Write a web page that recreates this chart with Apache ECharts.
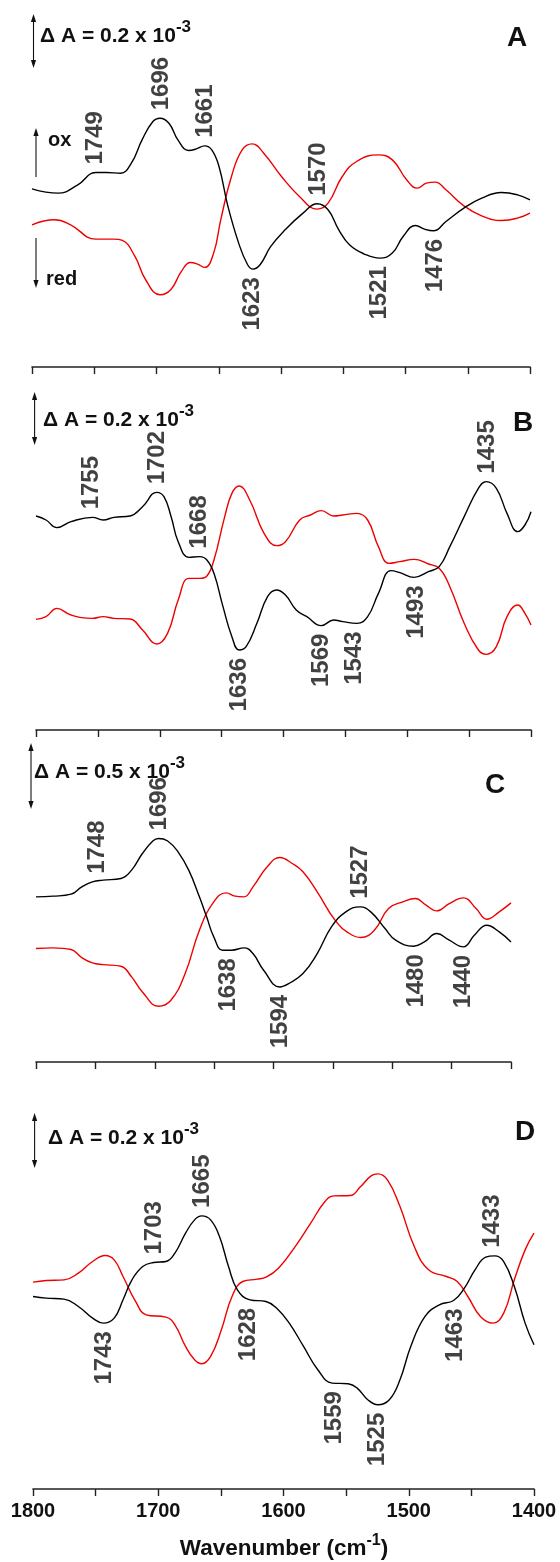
<!DOCTYPE html>
<html><head><meta charset="utf-8">
<script src="https://cdn.jsdelivr.net/npm/echarts@6/dist/echarts.min.js"></script>
<style>html,body{margin:0;padding:0;background:#fff}#c{width:560px;height:1562px}</style>
</head><body><div id="c"></div>
<script>
// ================= DATA =================
const xTickLabels = [1800, 1700, 1600, 1500, 1400];
const xTitle = ['Wavenumber (cm', '-1', ')'];

// Panel A  [wavenumber, relative signal]
const A_ox = [[1800,535],[1779,522],[1763.2,547],[1748.9,584],[1740.3,584],[1728.8,582],[1720.2,612],[1711.6,682],[1702.9,737],[1697.2,747],[1690,732],[1682.8,682],[1674.2,650],[1668.5,654],[1661.3,664],[1655.6,652],[1649.8,602],[1642.6,482],[1634,372],[1626.8,307],[1622.5,294],[1616.8,307],[1608.2,362],[1596.7,412],[1582.3,462],[1570.9,490],[1562.2,472],[1553.6,412],[1545,367],[1533.5,340],[1520.6,327],[1510.6,342],[1501.9,392],[1491.9,425],[1484.7,414],[1477.5,409],[1467.5,437],[1453.1,477],[1438.8,507],[1423,524],[1410,517],[1400,502]];
const A_red = [[1800,427],[1781.9,442],[1769,427],[1748.9,384],[1734.5,384],[1727.4,380],[1717.3,332],[1708.7,262],[1697.2,217],[1688.6,232],[1680,287],[1672.8,314],[1667,309],[1661.3,299],[1654.1,342],[1648.4,442],[1639.8,572],[1631.2,652],[1623.1,670],[1613.9,642],[1599.6,572],[1585.2,512],[1570.9,474],[1562.2,492],[1550.8,572],[1539.3,617],[1522,637],[1510.6,622],[1499.1,562],[1490.5,537],[1483.3,552],[1476.1,555],[1467.5,532],[1453.1,484],[1438.8,454],[1423,440],[1410,447],[1400,462]];
const A_peaksUp = [1749, 1696, 1661, 1570];
const A_peaksDown = [1623, 1521, 1476];
const A_scale = '0.2';

// Panel B
const B_ox = [[1800,642],[1791.9,630],[1783.2,607],[1771.7,625],[1754.4,638],[1745.7,630],[1737,638],[1724,642],[1713.9,670],[1702.4,713],[1696.6,700],[1690.8,640],[1685.1,565],[1676.4,518],[1667.7,520],[1661.9,510],[1656.2,470],[1648.9,370],[1641.7,280],[1635.9,240],[1630.2,250],[1621.5,320],[1612.9,400],[1605.6,420],[1598.4,405],[1589.7,360],[1581.1,340],[1569.5,313],[1559.4,330],[1552.2,325],[1540.6,320],[1532,340],[1523.3,410],[1513.2,478],[1506,472],[1494.4,458],[1482.9,475],[1474.2,490],[1465.6,550],[1454,640],[1442.5,725],[1436.1,745],[1428,725],[1419.4,650],[1410.7,595],[1404.9,615],[1400,655]];
const B_red = [[1800,332],[1791.9,340],[1783.2,365],[1771.7,345],[1754.4,335],[1745.7,340],[1737,335],[1724,333],[1713.9,300],[1702.4,258],[1693.7,290],[1685.1,390],[1676.4,455],[1667.7,455],[1661.9,462],[1656.2,510],[1647.5,640],[1641.7,710],[1635.9,732],[1627.3,690],[1615.7,590],[1605.6,553],[1598.4,565],[1586.9,630],[1578.2,645],[1569.5,658],[1559.4,642],[1552.2,645],[1540.6,650],[1532,630],[1523.3,550],[1514.7,500],[1506,505],[1494.4,512],[1482.9,498],[1474.2,485],[1465.6,430],[1454,320],[1442.5,240],[1436.1,227],[1428,250],[1419.4,340],[1410.7,375],[1404.9,350],[1400,315]];
const B_peaksUp = [1755, 1702, 1668, 1435];
const B_peaksDown = [1636, 1569, 1543, 1493];
const B_scale = '0.2';

// Panel C
const C_ox = [[1800,495],[1785.6,497],[1770.5,503],[1761.5,525],[1752.5,540],[1743.5,545],[1728.5,550],[1719.5,575],[1710.4,625],[1701.4,663],[1696.9,670],[1689.4,663],[1680.4,630],[1671.4,575],[1662.4,495],[1656.3,435],[1650.3,375],[1642.8,335],[1635.3,335],[1624.8,342],[1617.3,325],[1608.3,275],[1594.7,225],[1587.2,235],[1575.2,265],[1563.2,325],[1551.2,405],[1539.1,450],[1527.1,465],[1518.1,450],[1506.1,400],[1497.1,365],[1482,347],[1473,360],[1462.5,385],[1452,365],[1440,345],[1430.9,380],[1420.4,410],[1409.9,390],[1400,360]];
const C_red = [[1800,340],[1785.6,342],[1770.5,337],[1761.5,313],[1752.5,297],[1743.5,292],[1728.5,287],[1719.5,255],[1710.4,210],[1696.9,167],[1686.4,185],[1674.4,265],[1662.4,395],[1650.3,480],[1639.8,507],[1632.3,497],[1624.8,495],[1617.3,525],[1605.3,585],[1594.7,613],[1584.2,595],[1575.2,570],[1563.2,510],[1548.2,425],[1536.1,385],[1526.5,373],[1515.1,395],[1503.1,460],[1491.1,480],[1480.5,490],[1471.5,470],[1462.5,453],[1452,475],[1440,492],[1429.4,460],[1420.4,428],[1409.9,450],[1400,477]];
const C_peaksUp = [1748, 1696, 1527];
const C_peaksDown = [1638, 1594, 1480, 1440];
const C_scale = '0.5';

// Panel D
const D_ox = [[1800,578],[1789.4,573],[1775.2,570],[1763.8,548],[1752.4,513],[1743.8,498],[1735.2,513],[1728.1,568],[1721,628],[1712.4,668],[1703.8,680],[1693.9,683],[1686.7,708],[1678.2,768],[1671,808],[1665.3,820],[1658.2,808],[1651.1,758],[1643.9,668],[1636.8,598],[1626.8,568],[1614,563],[1605.4,543],[1595.4,498],[1584,428],[1572.6,358],[1561.2,318],[1548.4,316],[1541.2,303],[1532.7,268],[1524.7,253],[1515.5,268],[1507,328],[1498.4,428],[1487,518],[1475.6,553],[1464.2,566],[1455.6,603],[1447.1,658],[1438.5,696],[1431.4,700],[1424.2,683],[1415.7,608],[1407.1,498],[1400,433]];
const D_red = [[1800,621],[1789.4,626],[1775.2,628],[1763.8,648],[1752.4,683],[1742.4,701],[1735.2,688],[1728.1,638],[1718.1,563],[1709.6,523],[1693.9,516],[1686.7,493],[1678.2,428],[1671,388],[1665.3,376],[1658.2,398],[1649.6,478],[1641.1,578],[1632.5,623],[1621.1,630],[1614,636],[1604,663],[1589.7,733],[1578.3,798],[1566.9,863],[1559.8,880],[1546.9,881],[1538.4,908],[1529.8,941],[1524.7,946],[1517,928],[1507,848],[1495.6,728],[1484.2,658],[1469.9,638],[1461.3,623],[1452.8,578],[1442.8,518],[1432.8,498],[1424.2,528],[1415.7,628],[1407.1,718],[1400,768]];
const D_peaksUp = [1703, 1665, 1433];
const D_peaksDown = [1743, 1628, 1559, 1525, 1463];
const D_scale = '0.2';

const panelLetters = ['A', 'B', 'C', 'D'];

// ================= LAYOUT / STYLE =================
const FF = '"Liberation Sans", Arial, Helvetica, sans-serif';
const INK = '#111111';
const panels = [
  {ox: A_ox, red: A_red, up: A_peaksUp, down: A_peaksDown, scale: A_scale},
  {ox: B_ox, red: B_red, up: B_peaksUp, down: B_peaksDown, scale: B_scale},
  {ox: C_ox, red: C_red, up: C_peaksUp, down: C_peaksDown, scale: C_scale},
  {ox: D_ox, red: D_red, up: D_peaksUp, down: D_peaksDown, scale: D_scale}
];
const layout = [
  {left: 32, width: 498, top: 0, height: 367, ymax: 1102},
  {left: 36, width: 495, top: 360, height: 370, ymax: 1110},
  {left: 36, width: 475, top: 720, height: 342, ymax: 1025},
  {left: 33, width: 501, top: 1080, height: 409, ymax: 1228}
];
const annot = [
  {arrow: [33.5, 14, 68], text: [40, 36], letter: [517, 38]},
  {arrow: [34.6, 392, 445], text: [43, 420], letter: [523, 423]},
  {arrow: [31, 743, 809], text: [34, 772], letter: [495, 785]},
  {arrow: [34.6, 1113, 1168], text: [48, 1138], letter: [525, 1132]}
];

function nearestVal(data, w) {
  let best = data[0];
  data.forEach(p => { if (Math.abs(p[0] - w) < Math.abs(best[0] - w)) best = p; });
  return best[1];
}

function arrow(x, y1, y2, headUp, headDown) {
  const h = 8, w = 2.6;
  const els = [{type: 'line', silent: true, shape: {x1: x, y1: y1 + (headUp ? h - 1 : 0), x2: x, y2: y2 - (headDown ? h - 1 : 0)}, style: {stroke: INK, lineWidth: 1.1}}];
  if (headUp) els.push({type: 'polygon', silent: true, shape: {points: [[x, y1], [x - w, y1 + h], [x + w, y1 + h]]}, style: {fill: INK}});
  if (headDown) els.push({type: 'polygon', silent: true, shape: {points: [[x, y2], [x - w, y2 - h], [x + w, y2 - h]]}, style: {fill: INK}});
  return els;
}
function plainText(x, y, text, size, align) {
  return {type: 'text', silent: true, x: x, y: y, style: {text: text, font: 'bold ' + size + 'px ' + FF, fill: INK, align: align, verticalAlign: 'middle', legacy: false}};
}
function supText(x, y, parts, size, supSize, raisePad, align) {
  return {type: 'text', silent: true, x: x, y: y, style: {
    text: '{m|' + parts[0] + '}{s|' + parts[1] + '}' + (parts[2] ? '{m|' + parts[2] + '}' : ''),
    align: align, verticalAlign: 'middle', legacy: false, fill: INK,
    rich: {
      m: {font: 'bold ' + size + 'px ' + FF, fill: INK},
      s: {font: 'bold ' + supSize + 'px ' + FF, fill: INK, verticalAlign: 'top', padding: [0, 0, raisePad, 0]}
    }
  }};
}

const grid = [], xAxis = [], yAxis = [], series = [];
let graphic = [];

panels.forEach((p, i) => {
  const L = layout[i];
  grid.push({left: L.left, top: L.top, width: L.width, height: L.height, containLabel: false, outerBoundsMode: 'none'});
  xAxis.push({
    gridIndex: i, type: 'value', min: 1400, max: 1800, interval: 50, inverse: true,
    axisLine: {show: true, onZero: false, lineStyle: {color: '#222', width: 1.6}},
    axisTick: {show: true, inside: false, length: 7, lineStyle: {color: '#222', width: 1.4}},
    splitLine: {show: false},
    axisLabel: {
      show: i === 3, margin: 12, showMinLabel: true, showMaxLabel: true,
      color: INK, fontSize: 20, fontWeight: 'bold', fontFamily: FF,
      formatter: v => (xTickLabels.indexOf(v) >= 0 ? String(v) : '')
    }
  });
  yAxis.push({gridIndex: i, type: 'value', min: 0, max: L.ymax, show: false, splitLine: {show: false}});

  series.push({type: 'line', name: 'ox-red ' + panelLetters[i], xAxisIndex: i, yAxisIndex: i, data: p.ox, smooth: 0.45, showSymbol: false, silent: true, lineStyle: {color: '#000', width: 1.4}, z: 3});
  series.push({type: 'line', name: 'red-ox ' + panelLetters[i], xAxisIndex: i, yAxisIndex: i, data: p.red, smooth: 0.45, showSymbol: false, silent: true, lineStyle: {color: '#ee0000', width: 1.4}, z: 2});

  const lab = [];
  p.up.forEach(w => lab.push({value: [w, nearestVal(p.ox, w)], label: {position: 'top', align: 'left', verticalAlign: 'middle'}}));
  p.down.forEach(w => lab.push({value: [w, nearestVal(p.ox, w)], label: {position: 'bottom', align: 'right', verticalAlign: 'middle'}}));
  series.push({
    type: 'scatter', xAxisIndex: i, yAxisIndex: i, data: lab, symbolSize: 0, silent: true, z: 5,
    label: {show: true, rotate: 90, distance: 8, formatter: d => String(d.value[0]),
      color: INK, fontSize: 24, fontWeight: 'bold', fontFamily: FF}
  });

  const a = annot[i];
  graphic = graphic.concat(arrow(a.arrow[0], a.arrow[1], a.arrow[2], true, true));
  graphic.push(supText(a.text[0], a.text[1], ['\u0394 A = ' + p.scale + ' x 10', '-3'], 21, 17, 18, 'left'));
  graphic.push(plainText(a.letter[0], a.letter[1], panelLetters[i], 28, 'center'));
});

// ox / red direction markers (panel A)
graphic = graphic.concat(arrow(36, 128, 177, true, false));
graphic = graphic.concat(arrow(36, 238, 288, false, true));
graphic.push(plainText(48, 140, 'ox', 20, 'left'));
graphic.push(plainText(46, 279, 'red', 20, 'left'));
// x-axis title
graphic.push(supText(284, 1549, xTitle, 22.5, 16, 16, 'center'));

const chart = echarts.init(document.getElementById('c'), null, {renderer: 'canvas'});
chart.setOption({
  animation: false,
  backgroundColor: '#ffffff',
  grid: grid, xAxis: xAxis, yAxis: yAxis, series: series,
  graphic: {elements: graphic}
});
</script></body></html>
